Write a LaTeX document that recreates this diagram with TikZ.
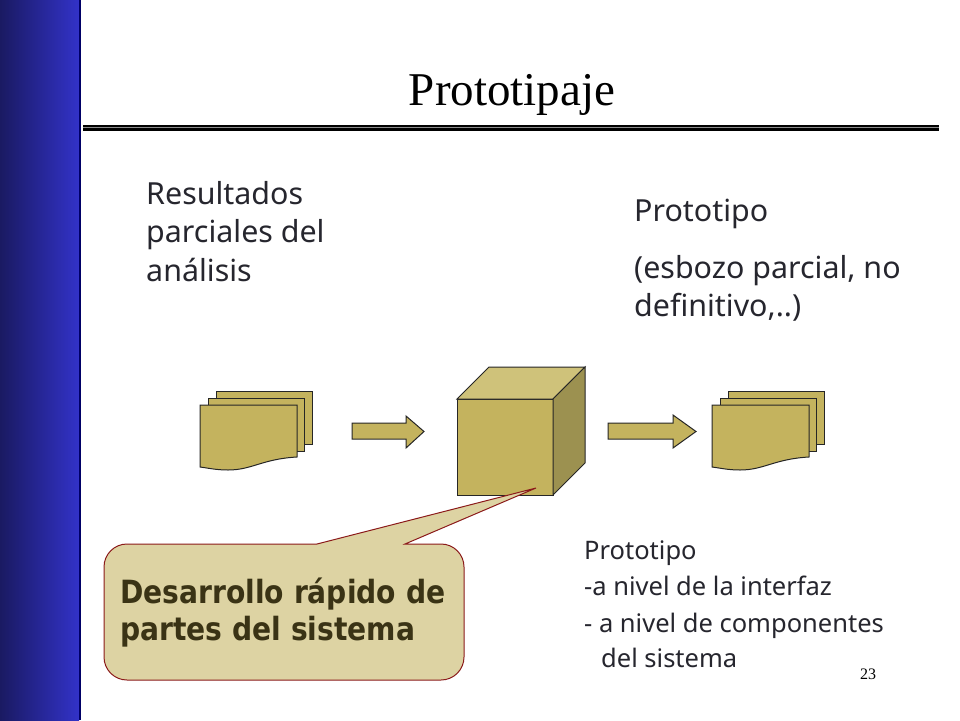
\documentclass[tikz,border=0pt]{standalone}
\usepackage{fontspec}
\usepackage{xcolor}
\setmainfont{Liberation Serif}
\newfontfamily\labelfont{Noto Sans}
\newfontfamily\calloutfont[FakeStretch=0.88]{DejaVu Sans}
\definecolor{sheetfill}{HTML}{C4B35E}
\definecolor{cubetop}{HTML}{CFC27A}
\definecolor{cubeside}{HTML}{9C9150}
\definecolor{calloutfill}{HTML}{DDD3A3}
\definecolor{calloutline}{HTML}{8B1A1A}
\definecolor{calloutink}{HTML}{3A3315}
\definecolor{labelink}{HTML}{26262E}
\definecolor{banddark}{HTML}{1A1A62}
\definecolor{bandlight}{HTML}{3232C8}
\tikzset{
    sheet/.style={draw=black!85, line width=1pt, fill=sheetfill, line join=miter},
    bodytext/.style={inner sep=0pt, anchor=north west, align=left, text=labelink},
    biglabel/.style={bodytext, font=\labelfont\fontsize{30.4}{38.5}\selectfont},
    smalllabel/.style={bodytext, font=\labelfont\fontsize{25.5}{36.5}\selectfont}
}
% one stack of three sheets, #1 = horizontal shift
\newcommand{\sheetstack}[1]{
    \begin{scope}[xshift=#1]
        \draw[sheet] (216,391) -- (312,391) -- (312,444) -- (216,444) -- cycle;
        \draw[sheet] (208,398) -- (304,398) -- (304,451) -- (208,451) -- cycle;
        \draw[sheet] (200,405) -- (297,405) -- (297,457)
            .. controls (262,459) and (252,470) .. (228,470)
            .. controls (216,470) and (208,468) .. (200,467) -- cycle;
    \end{scope}
}
\begin{document}
\begin{tikzpicture}[x=1pt, y=-1pt]
    \useasboundingbox (0,0) rectangle (960,720);
    \fill[white] (0,0) rectangle (960,720);

    % Side band
    \shade[left color=banddark, right color=bandlight] (0,0) rectangle (79,720);
    \fill[blue!40!black] (79,0) rectangle (81,720);

    % Title and rule
    \node[inner sep=0pt, anchor=base, font=\fontsize{47}{50}\selectfont] (title) at (512,105) {Prototipaje};
    \fill[black] (83,125) rectangle (939,131);
    \fill[black!45] (83,127) rectangle (939,128);

    % Upper labels
    \node[biglabel] (resultados) at (146,181) {Resultados\\parciales del\\análisis};
    \node[biglabel] (prototipo) at (634,199) {Prototipo};
    \node[biglabel] (esbozo) at (634,255) {(esbozo parcial, no\\definitivo,..)};

    % Sheets
    \sheetstack{0}
    \sheetstack{512}

    % Block arrows
    \draw[sheet] (352,423) -- (406,423) -- (406,416) -- (424,431.5) -- (406,448) -- (406,439) -- (352,439) -- cycle;
    \draw[sheet] (608,423) -- (673,423) -- (673,415) -- (696,431.5) -- (673,448) -- (673,439) -- (608,439) -- cycle;

    % Cube
    \draw[sheet] (457,399) rectangle (553,495);
    \draw[sheet, fill=cubetop] (457,399) -- (489,367) -- (585,367) -- (553,399) -- cycle;
    \draw[sheet, fill=cubeside] (553,399) -- (585,367) -- (585,463) -- (553,495) -- cycle;

    % Callout
    \draw[calloutline, line width=1pt, fill=calloutfill]
        (104,567) arc[start angle=180, end angle=270, radius=23] -- (317,544) -- (536,488) -- (405,544)
        -- (441,544) arc[start angle=270, end angle=360, radius=23]
        -- (464,657) arc[start angle=0, end angle=90, radius=23]
        -- (127,680) arc[start angle=90, end angle=180, radius=23] -- cycle;
    \node[bodytext, text=calloutink, font=\calloutfont\bfseries\fontsize{32}{37}\selectfont] (desarrollo) at (120,578) {Desarrollo rápido de\\partes del sistema};

    % Lower labels
    \node[smalllabel] (nivel) at (584,540) {Prototipo\\-a nivel de la interfaz\\- a nivel de componentes};
    \node[smalllabel] (sistema) at (601,648) {del sistema};

    % Page number
    \node[inner sep=0pt, anchor=base, font=\fontsize{16}{18}\selectfont] (pagina) at (868,679) {23};
\end{tikzpicture}
\end{document}
